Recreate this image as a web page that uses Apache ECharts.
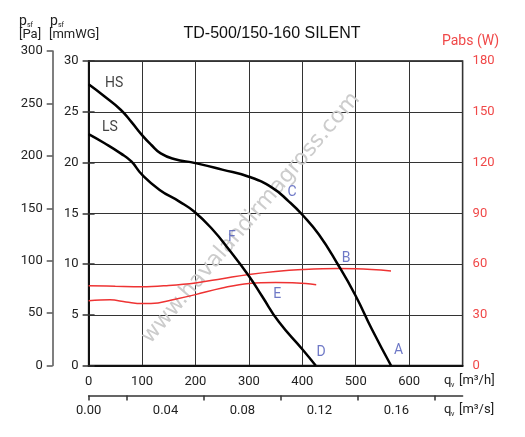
<!DOCTYPE html>
<html><head><meta charset="utf-8">
<script src="https://cdn.jsdelivr.net/npm/echarts@6/dist/echarts.min.js"></script>
<style>html,body{margin:0;padding:0;background:#fff}#c{width:525px;height:437px}</style>
</head><body><div id="c"></div>
<script>
// ---- data ----
const flowTicksM3h = [0, 100, 200, 300, 400, 500, 600];
const flowTicksM3s = [0, 0.04, 0.08, 0.12, 0.16];
const flowMinorM3s = [0, 0.02, 0.06, 0.10, 0.14, 0.18];
const hsPressure = [[0,27.7],[30,26.5],[60,25.2],[80,24.0],[100,22.7],[117,21.75],[135,20.9],[160,20.35],[200,19.94],[250,19.3],[300,18.6],[344,17.5],[375,16.15],[400,14.85],[431,12.9],[466,10.0],[499,6.95],[530,3.6],[566,0]];
const lsPressure = [[0,22.8],[30,21.9],[60,20.9],[80,20.1],[100,18.8],[133,17.3],[170,16.15],[198,15.15],[232,13.4],[263,11.4],[299,8.9],[325,6.8],[356,4.3],[400,1.6],[425,0]];
const hsPower = [[0,47.2],[50,46.8],[100,46.5],[150,47.3],[200,48.8],[250,51.3],[300,53.8],[350,55.6],[400,56.7],[467,57.3],[500,57.2],[566,55.9]];
const lsPower = [[0,38.3],[40,38.8],[70,37.6],[100,36.6],[130,37.0],[160,39.0],[200,41.9],[250,45.8],[300,48.5],[350,49.0],[390,48.8],[426,47.8]];
const speedLabels = [[48,27.8,'HS'],[40,23.4,'LS']];
const pointLabels = [[381,17.0,'C'],[268,12.6,'F'],[482,10.5,'B'],[353,6.95,'E'],[435,1.3,'D'],[580,1.43,'A']];

// ---- chart ----
const FONT = 'Roboto, "Liberation Sans", sans-serif';
const lbl = {color:'#222', fontSize:13, fontFamily:FONT};
const chart = echarts.init(document.getElementById('c'));
chart.setOption({
  animation:false,
  backgroundColor:'#fff',
  grid:[
    {left:88.6, top:61, width:374, height:304.5, show:true, borderColor:'#111', borderWidth:1.5, backgroundColor:'transparent'},
    {left:52.7, top:51, width:1, height:314.5}
  ],
  xAxis:[
    {type:'value', gridIndex:0, min:0, max:700, interval:100,
     axisLine:{lineStyle:{color:'#111', width:2}}, axisTick:{show:false},
     splitLine:{lineStyle:{color:'#333', width:1}},
     axisLabel:Object.assign({margin:10, formatter:v=>flowTicksM3h.includes(v)?String(v):''}, lbl)},
    {type:'value', gridIndex:0, min:0, max:700/3600, position:'bottom', offset:30,
     axisLine:{show:true, onZero:false, lineStyle:{color:'#333', width:1.5}},
     axisTick:{show:true, length:5, inside:false, customValues:flowMinorM3s, lineStyle:{color:'#333', width:1.5}},
     splitLine:{show:false},
     axisLabel:Object.assign({margin:9, customValues:flowTicksM3s, formatter:v=>v.toFixed(2)}, lbl)},
    {type:'value', gridIndex:1, show:false, min:0, max:1}
  ],
  yAxis:[
    {type:'value', gridIndex:0, min:0, max:30, interval:5, position:'left',
     axisLine:{show:true, lineStyle:{color:'#111', width:2}},
     axisTick:{show:true, length:6, lineStyle:{color:'#333', width:1.5}},
     splitLine:{lineStyle:{color:'#333', width:1}},
     axisLabel:Object.assign({margin:10}, lbl)},
    {type:'value', gridIndex:0, min:0, max:180, interval:30, position:'right',
     axisLine:{show:true, lineStyle:{color:'#111', width:2}},
     axisTick:{show:true, length:6, lineStyle:{color:'#333', width:1.5}},
     splitLine:{show:false},
     axisLabel:Object.assign({}, lbl, {margin:10, color:'#f04848'})},
    {type:'value', gridIndex:1, min:0, max:300, interval:50, position:'left',
     axisLine:{show:true, lineStyle:{color:'#555', width:1.5}},
     axisTick:{show:true, length:6, lineStyle:{color:'#555', width:1.5}},
     splitLine:{show:false},
     axisLabel:Object.assign({margin:10}, lbl)}
  ],
  series:[
    {type:'line', name:'HS', xAxisIndex:0, yAxisIndex:0, data:hsPressure, smooth:0.5, showSymbol:false, lineStyle:{color:'#000', width:2.5}, z:5},
    {type:'line', name:'LS', xAxisIndex:0, yAxisIndex:0, data:lsPressure, smooth:0.5, showSymbol:false, lineStyle:{color:'#000', width:2.5}, z:5},
    {type:'line', name:'HS power', xAxisIndex:0, yAxisIndex:1, data:hsPower, smooth:0.4, showSymbol:false, lineStyle:{color:'#ee3333', width:1.5}, z:4},
    {type:'line', name:'LS power', xAxisIndex:0, yAxisIndex:1, data:lsPower, smooth:0.4, showSymbol:false, lineStyle:{color:'#ee3333', width:1.5}, z:4},
    {type:'scatter', xAxisIndex:0, yAxisIndex:0, data:speedLabels, symbolSize:1, itemStyle:{color:'transparent'},
     label:{show:true, position:'inside', formatter:p=>p.data[2], color:'#111', fontSize:14, fontFamily:FONT}, z:6},
    {type:'scatter', xAxisIndex:0, yAxisIndex:0, data:pointLabels, symbolSize:1, itemStyle:{color:'transparent'},
     label:{show:true, position:'inside', formatter:p=>p.data[2], color:'#4a56b8', fontSize:14, fontFamily:FONT}, z:6}
  ],
  graphic:[
    {type:'text', x:251, y:218, z:1, rotation:49.4*Math.PI/180, silent:true, style:{text:'www.havalandirmagross.com', fill:'#cccccc', font:'22px "DejaVu Sans", sans-serif', textAlign:'center', textVerticalAlign:'middle'}},
    {type:'text', x:272, y:34, z:10, style:{text:'TD-500/150-160 SILENT', fill:'#111', font:'16px "Liberation Sans", Arial, sans-serif', textAlign:'center', textVerticalAlign:'middle'}},
    {type:'text', x:19, y:21, z:10, style:{text:'p', fill:'#222', font:'14px '+FONT, textVerticalAlign:'middle'}},
    {type:'text', x:27, y:25.5, z:10, style:{text:'sf', fill:'#222', font:'7px '+FONT, textVerticalAlign:'middle'}},
    {type:'text', x:19, y:35, z:10, style:{text:'[Pa]', fill:'#222', font:'13px '+FONT, textVerticalAlign:'middle'}},
    {type:'text', x:50, y:21, z:10, style:{text:'p', fill:'#222', font:'14px '+FONT, textVerticalAlign:'middle'}},
    {type:'text', x:58, y:25.5, z:10, style:{text:'sf', fill:'#222', font:'7px '+FONT, textVerticalAlign:'middle'}},
    {type:'text', x:49, y:35, z:10, style:{text:'[mmWG]', fill:'#222', font:'13px '+FONT, textVerticalAlign:'middle'}},
    {type:'text', x:442, y:41, z:10, style:{text:'Pabs (W)', fill:'#f04848', font:'14px '+FONT, textVerticalAlign:'middle'}},
    {type:'text', x:444, y:381, z:10, style:{text:'q', fill:'#222', font:'13px '+FONT, textVerticalAlign:'middle'}},
    {type:'text', x:451, y:385.5, z:10, style:{text:'v', fill:'#222', font:'7px '+FONT, textVerticalAlign:'middle'}},
    {type:'text', x:459, y:381, z:10, style:{text:'[m³/h]', fill:'#222', font:'13px '+FONT, textVerticalAlign:'middle'}},
    {type:'text', x:444, y:410, z:10, style:{text:'q', fill:'#222', font:'13px '+FONT, textVerticalAlign:'middle'}},
    {type:'text', x:451, y:414.5, z:10, style:{text:'v', fill:'#222', font:'7px '+FONT, textVerticalAlign:'middle'}},
    {type:'text', x:459, y:410, z:10, style:{text:'[m³/s]', fill:'#222', font:'13px '+FONT, textVerticalAlign:'middle'}}
  ]
});
</script></body></html>
